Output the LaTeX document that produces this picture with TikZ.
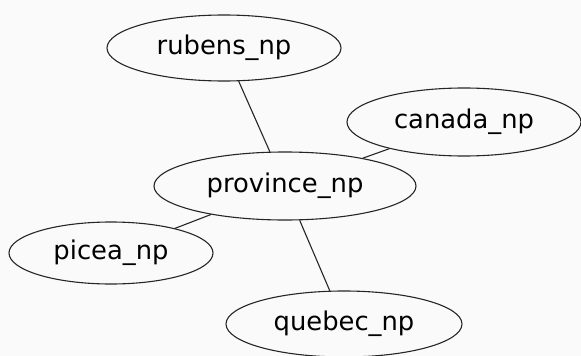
\documentclass[tikz,border=0pt]{standalone}
\usepackage{fontspec}
\setmainfont{DejaVu Sans}
\usetikzlibrary{shapes.geometric}
\begin{document}
\begin{tikzpicture}[x=1pt,y=-1pt,
  np/.style={draw=black!85, line width=1.1pt, ellipse, inner sep=0pt, font=\fontsize{25.8}{30}\selectfont, text=black},
  edge/.style={draw=black!85, line width=1.1pt}]
\fill[white!98!black] (0,0) rectangle (581,356);
\useasboundingbox (0,0) rectangle (581,356);
\node[np, minimum width=234pt, minimum height=66pt] (rubens) at (224,48) {rubens\_np};
\node[np, minimum width=234pt, minimum height=68pt] (canada) at (464,122) {canada\_np};
\node[np, minimum width=262pt, minimum height=68pt] (province) at (285,186) {province\_np};
\node[np, minimum width=204pt, minimum height=62pt] (picea) at (111,253) {picea\_np};
\node[np, minimum width=236pt, minimum height=66pt] (quebec) at (344,324) {quebec\_np};
\draw[edge] (rubens) -- (province);
\draw[edge] (canada) -- (province);
\draw[edge] (picea) -- (province);
\draw[edge] (quebec) -- (province);
\end{tikzpicture}
\end{document}
